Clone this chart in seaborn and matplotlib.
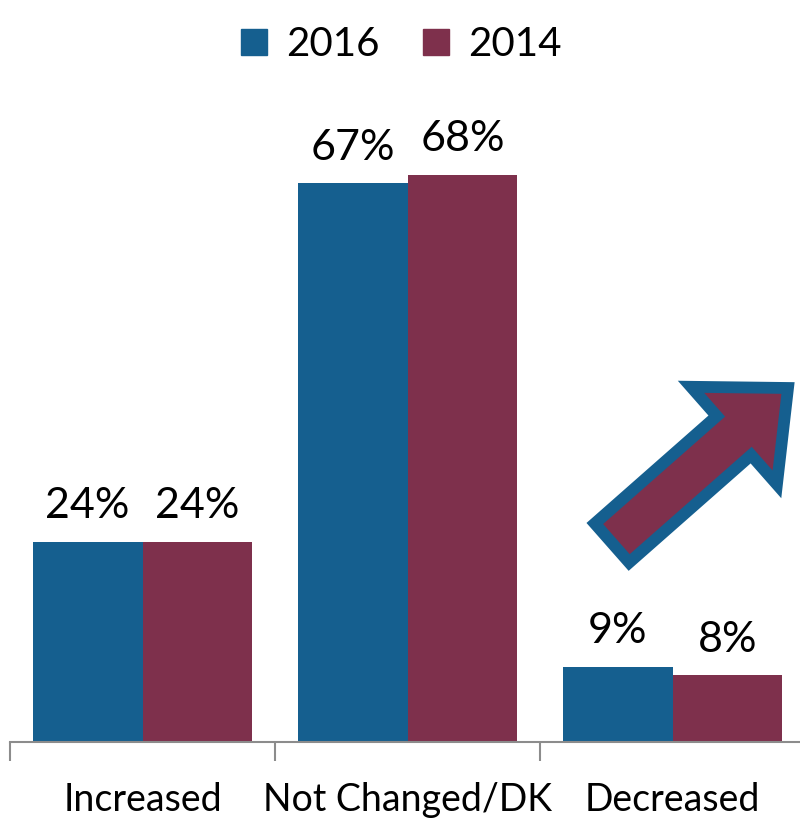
import matplotlib
matplotlib.use("Agg")
import matplotlib.pyplot as plt
import seaborn as sns
import pandas as pd
from matplotlib.patches import FancyArrow
from matplotlib.lines import Line2D

categories = ["Increased", "Not Changed/DK", "Decreased"]
years = ["2016", "2014"]
values_2016 = [24, 67, 9]
values_2014 = [24, 68, 8]
colors = {"2016": "#155f8f", "2014": "#7e304c"}

sns.set_theme(style="white")
plt.rcParams['font.family'] = ['Lato', 'DejaVu Sans']
plt.rcParams['text.color'] = 'black'
plt.rcParams['xtick.color'] = 'black'

df = pd.DataFrame({
    "category": categories * 2,
    "year": ["2016"] * 3 + ["2014"] * 3,
    "value": values_2016 + values_2014,
})

fig = plt.figure(figsize=(8.0, 8.18), dpi=100)
ax = fig.add_axes([10 / 800, 76 / 818, 795 / 800, 667 / 818])
sns.barplot(data=df, x="category", y="value", hue="year", hue_order=years,
            palette=colors, width=0.83, ax=ax, legend=False, saturation=1)

ax.set_xlim(-0.5, 2.5)
ax.set_ylim(0, 80)
for c in ax.containers:
    for bar in c:
        bar.set_edgecolor("none")
    ax.bar_label(c, labels=[f"{int(v)}%" for v in c.datavalues], padding=12,
                 fontsize=31, color="black")

for s in ["top", "right", "left"]:
    ax.spines[s].set_visible(False)
ax.spines["bottom"].set_color("#8c8c8c")
ax.spines["bottom"].set_linewidth(1.5)
ax.set_yticks([])
ax.set_xlabel("")
ax.set_ylabel("")
ax.set_xticks([-0.5, 0.5, 1.5, 2.5], minor=False)
ax.set_xticklabels([])
ax.tick_params(axis="x", which="major", length=14, width=1.5, color="#8c8c8c", bottom=True)
ax.set_xticks([0, 1, 2], minor=True)
ax.set_xticklabels(categories, minor=True, fontsize=27, color="black")
ax.tick_params(axis="x", which="minor", length=0, pad=29)

handles = [Line2D([0], [0], marker="s", linestyle="none", markersize=19,
                  markerfacecolor=colors[y], markeredgecolor=colors[y]) for y in years]
fig.legend(handles, years, loc="upper center", bbox_to_anchor=(0.5, 1.012), ncol=2,
           frameon=False, fontsize=29, handlelength=0.8, handletextpad=0.4,
           columnspacing=1.0)

ov = fig.add_axes([0, 0, 1, 1], facecolor="none")
ov.set_xlim(0, 800)
ov.set_ylim(818, 0)
ov.axis("off")
arrow = FancyArrow(612, 543, 176, -155, width=52, head_width=130, head_length=72,
                   length_includes_head=True, facecolor="#7e304c", edgecolor="#155f8f",
                   linewidth=8.5, joinstyle="miter")
ov.add_patch(arrow)

fig.savefig("out.png", dpi=100)
